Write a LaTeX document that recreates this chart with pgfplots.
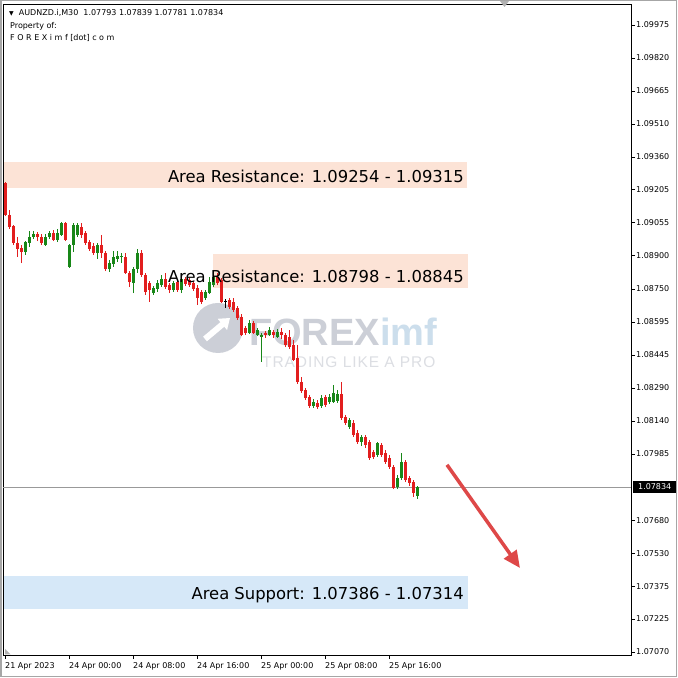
\documentclass[border=0pt]{standalone}
\usepackage{pgfplots}
\pgfplotsset{compat=1.18}
\usepackage{pgfplotstable}
\usepackage{fontspec}
\setmainfont{DejaVu Sans}
\newfontfamily\libsans{Liberation Sans}
\usetikzlibrary{arrows.meta}
\definecolor{bull}{RGB}{24,135,24}
\definecolor{bear}{RGB}{226,30,30}
\definecolor{resist}{RGB}{252,227,214}
\definecolor{support}{RGB}{214,232,248}
\definecolor{arrowred}{RGB}{222,72,72}
\definecolor{wmgray}{RGB}{204,207,215}
\definecolor{wmblue}{RGB}{204,222,236}
\definecolor{wmlight}{RGB}{220,222,227}

\pgfplotstableread{
i o h l c
5 1.08924 1.08974 1.08910 1.08970
6 1.08965 1.09021 1.08947 1.08993
7 1.08993 1.09021 1.08984 1.09007
10 1.08956 1.09007 1.08951 1.08993
11 1.08993 1.09021 1.08984 1.09011
13 1.08979 1.09030 1.08970 1.09011
14 1.09002 1.09063 1.08998 1.09058
16 1.08854 1.08961 1.08849 1.08956
17 1.08956 1.09058 1.08924 1.09049
18 1.09002 1.09058 1.08993 1.09049
23 1.08919 1.08965 1.08891 1.08956
26 1.08844 1.08886 1.08831 1.08872
27 1.08868 1.08928 1.08854 1.08901
28 1.08891 1.08928 1.08877 1.08905
29 1.08901 1.08919 1.08872 1.08905
32 1.08780 1.08854 1.08733 1.08844
33 1.08844 1.08937 1.08826 1.08919
37 1.08733 1.08766 1.08724 1.08757
38 1.08752 1.08794 1.08738 1.08780
39 1.08770 1.08817 1.08761 1.08798
42 1.08747 1.08789 1.08738 1.08780
44 1.08747 1.08826 1.08733 1.08798
50 1.08710 1.08747 1.08701 1.08738
51 1.08733 1.08808 1.08729 1.08784
52 1.08770 1.08826 1.08761 1.08808
61 1.08548 1.08608 1.08543 1.08594
63 1.08539 1.08571 1.08534 1.08562
64 1.08530 1.08548 1.08414 1.08539
66 1.08539 1.08576 1.08534 1.08562
68 1.08530 1.08567 1.08525 1.08553
77 1.08210 1.08243 1.08201 1.08229
79 1.08210 1.08261 1.08201 1.08247
81 1.08229 1.08266 1.08219 1.08252
82 1.08229 1.08307 1.08224 1.08270
83 1.08233 1.08284 1.08224 1.08266
86 1.08113 1.08154 1.08104 1.08145
89 1.08043 1.08076 1.08024 1.08066
93 1.07983 1.08043 1.07974 1.08038
98 1.07835 1.07890 1.07825 1.07876
99 1.07876 1.07992 1.07867 1.07951
103 1.07793 1.07839 1.07781 1.07834
}\bulltab

\pgfplotstableread{
i o h l c
0 1.09243 1.09248 1.09090 1.09095
1 1.09095 1.09118 1.09030 1.09040
2 1.09044 1.09049 1.08956 1.08965
3 1.08965 1.08993 1.08901 1.08937
4 1.08942 1.08956 1.08872 1.08924
8 1.09007 1.09016 1.08974 1.08993
9 1.08993 1.09007 1.08956 1.08965
12 1.09011 1.09025 1.08974 1.08979
15 1.09058 1.09063 1.08974 1.08979
19 1.09040 1.09058 1.08988 1.09002
20 1.09011 1.09021 1.08956 1.08965
21 1.08970 1.08979 1.08928 1.08937
22 1.08951 1.08965 1.08910 1.08919
24 1.08956 1.09002 1.08896 1.08919
25 1.08919 1.08928 1.08835 1.08844
30 1.08901 1.08919 1.08822 1.08826
31 1.08826 1.08835 1.08761 1.08784
34 1.08919 1.08933 1.08808 1.08817
35 1.08817 1.08826 1.08724 1.08738
36 1.08780 1.08789 1.08692 1.08747
40 1.08798 1.08826 1.08752 1.08761
41 1.08770 1.08780 1.08733 1.08747
43 1.08784 1.08794 1.08738 1.08747
45 1.08798 1.08808 1.08766 1.08775
46 1.08794 1.08803 1.08761 1.08770
47 1.08780 1.08789 1.08743 1.08752
48 1.08757 1.08770 1.08678 1.08710
49 1.08738 1.08747 1.08682 1.08692
53 1.08808 1.08826 1.08770 1.08780
54 1.08794 1.08803 1.08687 1.08692
56 1.08701 1.08710 1.08659 1.08669
57 1.08692 1.08710 1.08646 1.08655
58 1.08664 1.08673 1.08608 1.08618
59 1.08622 1.08636 1.08534 1.08539
60 1.08571 1.08580 1.08539 1.08548
62 1.08594 1.08604 1.08543 1.08548
65 1.08548 1.08557 1.08525 1.08539
67 1.08553 1.08562 1.08525 1.08539
69 1.08553 1.08571 1.08520 1.08539
70 1.08539 1.08548 1.08483 1.08493
71 1.08530 1.08562 1.08474 1.08483
72 1.08493 1.08516 1.08418 1.08423
73 1.08432 1.08493 1.08312 1.08321
74 1.08321 1.08344 1.08270 1.08279
75 1.08284 1.08293 1.08238 1.08247
76 1.08252 1.08261 1.08201 1.08210
78 1.08224 1.08238 1.08196 1.08205
80 1.08252 1.08261 1.08205 1.08215
84 1.08266 1.08321 1.08145 1.08154
85 1.08159 1.08168 1.08122 1.08131
87 1.08131 1.08145 1.08066 1.08076
88 1.08085 1.08099 1.08034 1.08043
90 1.08066 1.08076 1.08015 1.08029
91 1.08043 1.08052 1.07960 1.07969
92 1.07997 1.08006 1.07964 1.07974
94 1.08029 1.08038 1.07974 1.07983
95 1.07992 1.08006 1.07941 1.07951
96 1.07969 1.07983 1.07918 1.07927
97 1.07927 1.07937 1.07825 1.07830
100 1.07951 1.07960 1.07858 1.07867
101 1.07876 1.07885 1.07839 1.07853
102 1.07858 1.07867 1.07788 1.07807
}\beartab

\pgfplotstableread{
i o h l c
55 1.08696 1.08706 1.08664 1.08692
}\dojitab

\pgfplotsset{
  candle/.style 2 args={forget plot, draw=none, mark=none,
    error bars/.cd, y dir=plus, y explicit, error mark=none,
    error bar style={draw=#1, line width=#2}},
}

\begin{document}
\begin{tikzpicture}
\useasboundingbox (0,0) rectangle (678pt,678pt);
\fill[white] (0,0) rectangle (678pt,678pt);
\begin{axis}[
  at={(3pt,23pt)}, anchor=south west,
  scale only axis, width=628pt, height=651pt,
  xmin=-0.5, xmax=156.5, ymin=1.07056, ymax=1.10072,
  clip=false,
  axis line style={black, line width=0.8pt},
  xtick={0,16,32,48,64,80,96},
  xticklabels={21 Apr 2023,24 Apr 00:00,24 Apr 08:00,24 Apr 16:00,25 Apr 00:00,25 Apr 08:00,25 Apr 16:00},
  xtick pos=lower, ytick pos=upper, yticklabel pos=right,
  tick align=outside, major tick length=4pt,
  tick style={black, line width=0.8pt},
  ytick={1.09975,1.09822,1.09669,1.09516,1.09363,1.09211,1.09058,1.08905,1.08752,1.08599,1.08446,1.08293,1.08140,1.07987,1.07681,1.07528,1.07375,1.07223,1.07070},
  yticklabels={1.09975,1.09820,1.09665,1.09510,1.09360,1.09205,1.09055,1.08900,1.08750,1.08595,1.08445,1.08290,1.08140,1.07985,1.07680,1.07530,1.07375,1.07225,1.07070},
  scaled y ticks=false,
  xticklabel style={anchor=north west, inner sep=0pt, font=\fontsize{8}{9}\selectfont, yshift=-3pt},
  yticklabel style={anchor=west, inner sep=0pt, font=\fontsize{8}{9}\selectfont, xshift=1pt},
]
% watermark
\fill[wmgray] (axis cs:53.25,1.08571) circle[radius=25pt];
\draw[white, line width=6pt, -{Triangle[length=10pt,width=14pt]}] ([shift={(-13pt,-11pt)}]axis cs:53.25,1.08571) -- ([shift={(12pt,10pt)}]axis cs:53.25,1.08571);
\node[anchor=base west, inner sep=0pt, font=\libsans\bfseries\fontsize{38}{39}\selectfont] at (axis cs:61,1.08490) {\textcolor{wmgray}{FOREX}\textcolor{wmblue}{imf}};
\node[anchor=base west, inner sep=0pt, text=wmlight, font=\libsans\fontsize{15.5}{16}\selectfont\addfontfeatures{LetterSpace=6}] at (axis cs:64.25,1.08388) {TRADING LIKE A PRO};

% zones
\addplot[resist, line width=26pt, forget plot] coordinates {(-0.25,1.09280) (115.5,1.09280)};
\addplot[resist, line width=34pt, forget plot] coordinates {(52,1.08835) (115.75,1.08835)};
\addplot[support, line width=33pt, forget plot] coordinates {(-0.25,1.07346) (115.75,1.07346)};

% current price line
\addplot[gray!80, line width=0.7pt, forget plot] coordinates {(-0.5,1.07834) (156.5,1.07834)};

% wicks
\addplot[candle={bull}{1pt}] table[x=i, y=l, y error plus expr=\thisrow{h}-\thisrow{l}] {\bulltab};
\addplot[candle={bear}{1pt}] table[x=i, y=l, y error plus expr=\thisrow{h}-\thisrow{l}] {\beartab};
\addplot[candle={black}{1pt}] table[x=i, y=l, y error plus expr=\thisrow{h}-\thisrow{l}] {\dojitab};
% bodies
\addplot[candle={bull}{3pt}] table[x=i, y=o, y error plus expr=\thisrow{c}-\thisrow{o}] {\bulltab};
\addplot[candle={bear}{3pt}] table[x=i, y=c, y error plus expr=\thisrow{o}-\thisrow{c}] {\beartab};
\addplot[candle={black}{3pt}] table[x=i, y=c, y error plus expr=\thisrow{o}-\thisrow{c}] {\dojitab};

% arrow
\addplot[arrowred, line width=3.5pt, -{Triangle[length=17pt,width=15pt]}, forget plot] coordinates {(110.5,1.07937) (128.75,1.07459)};

% zone labels
\node[anchor=base east, inner sep=0pt, font=\fontsize{16.4}{18}\selectfont] at (axis cs:114.75,1.09243) {Area Resistance: 1.09254 - 1.09315};
\node[anchor=base east, inner sep=0pt, font=\fontsize{16.4}{18}\selectfont] at (axis cs:114.75,1.08784) {Area Resistance: 1.08798 - 1.08845};
\node[anchor=base east, inner sep=0pt, font=\fontsize{16.4}{18}\selectfont] at (axis cs:114.75,1.07311) {Area Support: 1.07386 - 1.07314};

% current price tag
\node[fill=black, text=white, anchor=west, inner sep=0pt, minimum width=43pt, minimum height=12pt, font=\fontsize{8}{9}\selectfont, xshift=2pt] at (axis cs:156.5,1.07834) {1.07834};
\end{axis}
% chart header
\node[anchor=base west, inner sep=0pt, font=\fontsize{8}{9}\selectfont] at (9pt,662pt) {\fontsize{6}{7}\selectfont▼\fontsize{8}{9}\selectfont\ \ AUDNZD.i,M30\ \ 1.07793 1.07839 1.07781 1.07834};
\node[anchor=base west, inner sep=0pt, font=\fontsize{8}{9}\selectfont] at (10pt,649.5pt) {Property of:};
\node[anchor=base west, inner sep=0pt, font=\fontsize{8}{9}\selectfont] at (10pt,637.5pt) {F O R E X i m f [dot] c o m};
% window decorations
\fill[gray!60] (500pt,677pt) -- (509pt,677pt) -- (504.5pt,671pt) -- cycle;
\fill[gray!60] (5pt,29pt) -- (5pt,23.5pt) -- (10.5pt,23.5pt) -- cycle;
\draw[gray!70, line width=1.5pt] (0.75pt,1.5pt) rectangle (676.5pt,677.25pt);
\end{tikzpicture}
\end{document}
